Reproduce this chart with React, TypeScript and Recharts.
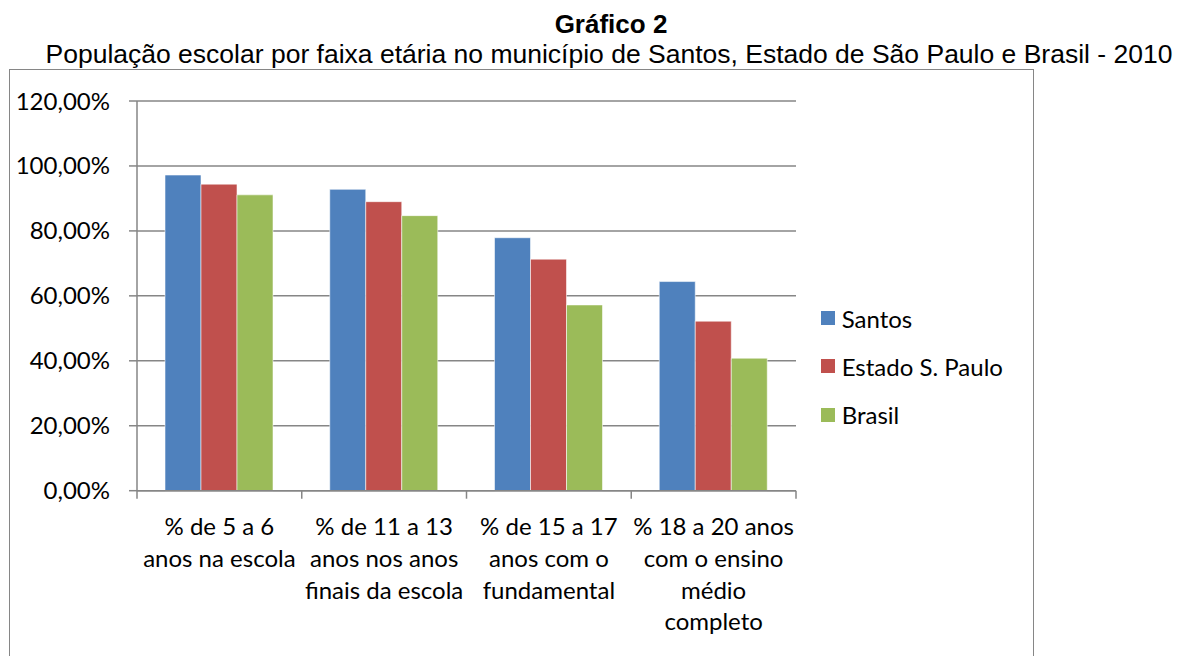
import React from 'react'
import {
  BarChart,
  Bar,
  XAxis,
  YAxis,
  CartesianGrid,
  Legend,
} from 'recharts'

// categorias (faixas etárias) e rótulos quebrados em linhas
const categorias = ['5 a 6', '11 a 13', '15 a 17', '18 a 20']
const rotulos = [
  ['% de 5 a 6', 'anos na escola'],
  ['% de 11 a 13', 'anos nos anos', 'finais da escola'],
  ['% de 15 a 17', 'anos com o', 'fundamental'],
  ['% 18 a 20 anos', 'com o ensino', 'médio', 'completo'],
]

// percentuais
const santos = [97.2, 92.8, 77.9, 64.4]
const estadoSP = [94.4, 89.0, 71.3, 52.2]
const brasil = [91.1, 84.7, 57.2, 40.8]

const yTicks = [0, 20, 40, 60, 80, 100, 120]

const series = [
  { key: 'santos', nome: 'Santos', cor: '#4F81BD' },
  { key: 'estado', nome: 'Estado S. Paulo', cor: '#C0504D' },
  { key: 'brasil', nome: 'Brasil', cor: '#9BBB59' },
]

const dados = categorias.map((c, i) => ({
  categoria: c,
  santos: santos[i],
  estado: estadoSP[i],
  brasil: brasil[i],
}))

const FONTE = 'Lato, "Open Sans", sans-serif'
const TAM = 24
const CINZA = '#868686'

const CHART_W = 1024
const CHART_H = 586
const MARGEM = { top: 31, right: 237, bottom: 0, left: 0 }

const fmtPct = (v: number) => v.toFixed(2).replace('.', ',') + '%'

function CategoriaTick(props: any) {
  const { x, y, payload, index } = props
  const meia =
    payload?.offset ?? (CHART_W - MARGEM.left - MARGEM.right - 128) / categorias.length / 2
  const linhas = rotulos[index] ?? [String(payload?.value)]
  return (
    <g>
      <line x1={x - meia} x2={x - meia} y1={y} y2={y + 8} stroke={CINZA} strokeWidth={1.5} />
      {index === categorias.length - 1 && (
        <line x1={x + meia} x2={x + meia} y1={y} y2={y + 8} stroke={CINZA} strokeWidth={1.5} />
      )}
      <text x={x} y={y + 36} textAnchor="middle" fill="#000" fontSize={TAM} fontFamily={FONTE}>
        {linhas.map((l, i) => (
          <tspan key={i} x={x} dy={i === 0 ? '0.35em' : 31.7}>
            {l}
          </tspan>
        ))}
      </text>
    </g>
  )
}

function Legenda({ payload }: any) {
  const itens = [...(payload ?? [])].sort(
    (a: any, b: any) =>
      series.findIndex((s) => s.nome === a.value) - series.findIndex((s) => s.nome === b.value)
  )
  return (
    <div style={{ fontFamily: FONTE, fontSize: TAM, color: '#000' }}>
      {itens.map((p: any) => (
        <div
          key={p.value}
          style={{ display: 'flex', alignItems: 'center', height: 48.3, whiteSpace: 'nowrap' }}
        >
          <span style={{ width: 14, height: 14, background: p.color, marginRight: 7 }} />
          <span>{p.value}</span>
        </div>
      ))}
    </div>
  )
}

export default function App() {
  return (
    <div
      style={{
        position: 'absolute',
        left: 0,
        top: 0,
        width: 1182,
        height: 656,
        overflow: 'hidden',
        background: '#fff',
      }}
    >
      <div
        style={{
          position: 'absolute',
          left: 0,
          width: 1222,
          top: 10,
          textAlign: 'center',
          fontFamily: '"Liberation Sans", Arial, sans-serif',
          fontWeight: 'bold',
          fontSize: 26,
          lineHeight: '28px',
        }}
      >
        Gráfico 2
      </div>
      <div
        style={{
          position: 'absolute',
          left: 0,
          width: 1218,
          top: 40,
          textAlign: 'center',
          fontFamily: '"Liberation Sans", Arial, sans-serif',
          fontSize: 26.5,
          lineHeight: '28px',
          whiteSpace: 'nowrap',
        }}
      >
        População escolar por faixa etária no município de Santos, Estado de São Paulo e Brasil - 2010
      </div>

      <div
        style={{
          position: 'absolute',
          left: 9,
          top: 69,
          width: CHART_W - 1,
          height: 640,
          border: `1.5px solid ${CINZA}`,
        }}
      />

      <div style={{ position: 'absolute', left: 9, top: 70 }}>
        <BarChart
          width={CHART_W}
          height={CHART_H}
          data={dados}
          margin={MARGEM}
          barCategoryGap="17%"
          barGap={0}
        >
          <CartesianGrid vertical={false} stroke={CINZA} strokeWidth={1.5} />
          <XAxis
            dataKey="categoria"
            height={CHART_H - 420.7}
            axisLine={{ stroke: CINZA, strokeWidth: 1.5 }}
            tickLine={false}
            tickSize={0}
            tickMargin={0}
            interval={0}
            tick={<CategoriaTick />}
          />
          <YAxis
            width={128}
            domain={[0, 120]}
            ticks={yTicks}
            tickFormatter={fmtPct}
            axisLine={{ stroke: CINZA, strokeWidth: 1.5 }}
            tickLine={{ stroke: CINZA, strokeWidth: 1.5 }}
            tickSize={8}
            tickMargin={19}
            tick={{ fill: '#000', fontSize: TAM, fontFamily: FONTE }}
          />
          {series.map((s) => (
            <Bar
              key={s.key}
              dataKey={s.key}
              name={s.nome}
              fill={s.cor}
              stroke="#ffffff"
              strokeOpacity={0.55}
              strokeWidth={1}
              isAnimationActive={false}
            />
          ))}
          <Legend
            layout="vertical"
            align="center"
            verticalAlign="middle"
            content={<Legenda />}
            wrapperStyle={{ left: 811.7, top: 224, width: 210 }}
          />
        </BarChart>
      </div>
    </div>
  )
}
